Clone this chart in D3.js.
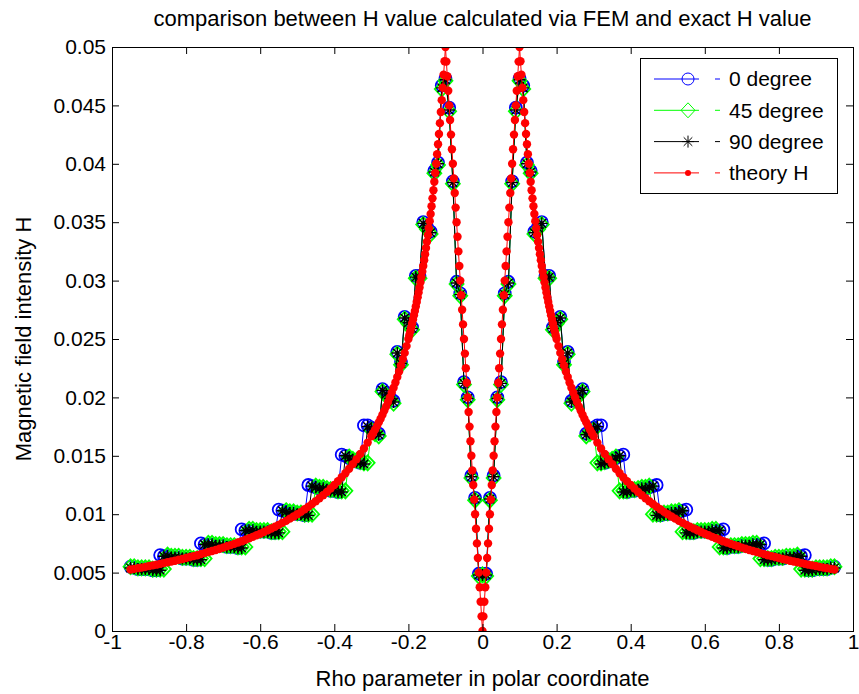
<!DOCTYPE html>
<html>
<head>
<meta charset="utf-8">
<script src="https://cdn.jsdelivr.net/npm/d3@7"></script>
<style>
  body { margin: 0; background: #fff; }
  text { font-family: "Liberation Sans", Arial, Helvetica, sans-serif; fill: #000; }
</style>
</head>
<body>
<div id="chart"></div>
<script>
// Donnees (rho de -0.95 a 0.95, pas 0.01)
const rhoFem = [
  -0.95,-0.94,-0.93,-0.92,-0.91,-0.9,-0.89,-0.88,-0.87,-0.86,
  -0.85,-0.84,-0.83,-0.82,-0.81,-0.8,-0.79,-0.78,-0.77,-0.76,
  -0.75,-0.74,-0.73,-0.72,-0.71,-0.7,-0.69,-0.68,-0.67,-0.66,
  -0.65,-0.64,-0.63,-0.62,-0.61,-0.6,-0.59,-0.58,-0.57,-0.56,
  -0.55,-0.54,-0.53,-0.52,-0.51,-0.5,-0.49,-0.48,-0.47,-0.46,
  -0.45,-0.44,-0.43,-0.42,-0.41,-0.4,-0.39,-0.38,-0.37,-0.36,
  -0.35,-0.34,-0.33,-0.32,-0.31,-0.3,-0.29,-0.28,-0.27,-0.26,
  -0.25,-0.24,-0.23,-0.22,-0.21,-0.2,-0.19,-0.18,-0.17,-0.16,
  -0.15,-0.14,-0.13,-0.12,-0.11,-0.1,-0.09,-0.08,-0.07,-0.06,
  -0.05,-0.04,-0.03,-0.02,-0.01,0,0.01,0.02,0.03,0.04,
  0.05,0.06,0.07,0.08,0.09,0.1,0.11,0.12,0.13,0.14,
  0.15,0.16,0.17,0.18,0.19,0.2,0.21,0.22,0.23,0.24,
  0.25,0.26,0.27,0.28,0.29,0.3,0.31,0.32,0.33,0.34,
  0.35,0.36,0.37,0.38,0.39,0.4,0.41,0.42,0.43,0.44,
  0.45,0.46,0.47,0.48,0.49,0.5,0.51,0.52,0.53,0.54,
  0.55,0.56,0.57,0.58,0.59,0.6,0.61,0.62,0.63,0.64,
  0.65,0.66,0.67,0.68,0.69,0.7,0.71,0.72,0.73,0.74,
  0.75,0.76,0.77,0.78,0.79,0.8,0.81,0.82,0.83,0.84,
  0.85,0.86,0.87,0.88,0.89,0.9,0.91,0.92,0.93,0.94,
  0.95
];

// 0 degree (bleu, cercles)
const hDeg0 = [
  0.0055,0.0054,0.0053,0.0053,0.0053,0.0053,0.0052,0.0052,0.0065,
  0.0064,0.0064,0.0063,0.0063,0.0063,0.0062,0.0062,0.0062,0.0061,0.0061,0.0075,
  0.0074,0.0074,0.0074,0.0073,0.0073,0.0073,0.0072,0.0072,0.0072,0.0071,0.0087,
  0.0086,0.0086,0.0086,0.0085,0.0085,0.0085,0.0085,0.0084,0.0084,0.0104,
  0.0103,0.0102,0.0101,0.0101,0.0100,0.0100,0.0099,0.0125,
  0.0124,0.0123,0.0122,0.0122,0.0121,0.0120,0.0120,0.0119,0.0151,
  0.0150,0.0148,0.0146,0.0145,0.0144,0.0176,
  0.0176,0.0174,0.0171,0.0169,0.0207,0.0204,0.0200,0.0197,0.0239,0.0230,0.0269,0.0265,0.0260,0.0304,0.0304,0.0350,0.0346,0.0342,
  0.0394,0.0401,0.0467,0.0473,0.0448,0.0385,0.0299,0.0289,0.0213,0.0200,0.0133,0.0114,0.0049,
  0.0049,
  0.0049,0.0114,0.0133,0.0200,0.0213,0.0289,0.0299,0.0385,0.0448,0.0473,0.0467,0.0401,0.0394,
  0.0342,0.0346,0.0350,0.0304,0.0304,0.0260,0.0265,0.0269,0.0230,0.0239,0.0197,0.0200,0.0204,0.0207,0.0169,0.0171,0.0174,0.0176,
  0.0176,0.0144,0.0145,0.0146,0.0148,0.0150,
  0.0151,0.0119,0.0120,0.0120,0.0121,0.0122,0.0122,0.0123,0.0124,
  0.0125,0.0099,0.0100,0.0100,0.0101,0.0101,0.0102,0.0103,
  0.0104,0.0084,0.0084,0.0085,0.0085,0.0085,0.0085,0.0086,0.0086,0.0086,
  0.0087,0.0071,0.0072,0.0072,0.0072,0.0073,0.0073,0.0073,0.0074,0.0074,0.0074,
  0.0075,0.0061,0.0061,0.0062,0.0062,0.0062,0.0063,0.0063,0.0063,0.0064,0.0064,
  0.0065,0.0052,0.0052,0.0053,0.0053,0.0053,0.0053,0.0054,0.0055
];

// 45 degree (vert, losanges)
const hDeg45 = [
  0.0055,0.0055,0.0054,0.0054,0.0054,0.0054,0.0053,0.0053,0.0053,
  0.0053,0.0065,0.0064,0.0064,0.0064,0.0063,0.0063,0.0063,0.0062,0.0062,0.0062,
  0.0062,0.0075,0.0075,0.0074,0.0074,0.0074,0.0073,0.0073,0.0073,0.0072,0.0072,
  0.0072,0.0087,0.0087,0.0086,0.0086,0.0086,0.0086,0.0085,0.0085,0.0085,
  0.0085,0.0103,0.0102,0.0102,0.0101,0.0101,0.0100,0.0100,
  0.0100,0.0124,0.0123,0.0123,0.0122,0.0121,0.0121,0.0120,0.0120,
  0.0120,0.0149,0.0147,0.0146,0.0145,0.0144,
  0.0144,0.0172,0.0169,0.0167,0.0205,0.0202,0.0198,0.0195,0.0237,0.0228,0.0267,0.0263,0.0258,0.0302,0.0302,0.0348,0.0344,0.0340,
  0.0392,0.0399,0.0464,0.0471,0.0445,0.0383,0.0297,0.0287,0.0211,0.0198,0.0131,0.0112,0.0047,
  0.0048,
  0.0047,0.0112,0.0131,0.0198,0.0211,0.0287,0.0297,0.0383,0.0445,0.0471,0.0464,0.0399,0.0392,
  0.0340,0.0344,0.0348,0.0302,0.0302,0.0258,0.0263,0.0267,0.0228,0.0237,0.0195,0.0198,0.0202,0.0205,0.0167,0.0169,0.0172,0.0144,
  0.0144,0.0145,0.0146,0.0147,0.0149,0.0120,
  0.0120,0.0120,0.0121,0.0121,0.0122,0.0123,0.0123,0.0124,0.0100,
  0.0100,0.0100,0.0101,0.0101,0.0102,0.0102,0.0103,0.0085,
  0.0085,0.0085,0.0085,0.0086,0.0086,0.0086,0.0086,0.0087,0.0087,0.0072,
  0.0072,0.0072,0.0073,0.0073,0.0073,0.0074,0.0074,0.0074,0.0075,0.0075,0.0062,
  0.0062,0.0062,0.0062,0.0063,0.0063,0.0063,0.0064,0.0064,0.0064,0.0065,0.0053,
  0.0053,0.0053,0.0053,0.0054,0.0054,0.0054,0.0054,0.0055,0.0055
];

// 90 degree (noir, etoiles)
const hDeg90 = [
  0.0054,0.0054,0.0053,0.0053,0.0053,0.0053,0.0052,0.0052,0.0052,
  0.0064,0.0064,0.0063,0.0063,0.0063,0.0062,0.0062,0.0062,0.0061,0.0061,0.0061,
  0.0074,0.0074,0.0074,0.0073,0.0073,0.0073,0.0072,0.0072,0.0072,0.0071,0.0071,
  0.0086,0.0086,0.0086,0.0085,0.0085,0.0085,0.0085,0.0084,0.0084,0.0084,
  0.0103,0.0102,0.0101,0.0101,0.0100,0.0100,0.0099,0.0099,
  0.0124,0.0123,0.0122,0.0122,0.0121,0.0120,0.0120,0.0119,0.0119,
  0.0150,0.0148,0.0146,0.0145,0.0144,0.0143,
  0.0175,0.0173,0.0170,0.0168,0.0206,0.0203,0.0199,0.0196,0.0238,0.0229,0.0268,0.0264,0.0259,0.0303,0.0303,0.0349,0.0345,0.0341,
  0.0393,0.0400,0.0465,0.0472,0.0446,0.0384,0.0298,0.0288,0.0212,0.0199,0.0132,0.0113,0.0048,
  0.0048,
  0.0048,0.0113,0.0132,0.0199,0.0212,0.0288,0.0298,0.0384,0.0446,0.0472,0.0465,0.0400,0.0393,
  0.0341,0.0345,0.0349,0.0303,0.0303,0.0259,0.0264,0.0268,0.0229,0.0238,0.0196,0.0199,0.0203,0.0206,0.0168,0.0170,0.0173,0.0175,
  0.0143,0.0144,0.0145,0.0146,0.0148,0.0150,
  0.0119,0.0119,0.0120,0.0120,0.0121,0.0122,0.0122,0.0123,0.0124,
  0.0099,0.0099,0.0100,0.0100,0.0101,0.0101,0.0102,0.0103,
  0.0084,0.0084,0.0084,0.0085,0.0085,0.0085,0.0085,0.0086,0.0086,0.0086,
  0.0071,0.0071,0.0072,0.0072,0.0072,0.0073,0.0073,0.0073,0.0074,0.0074,0.0074,
  0.0061,0.0061,0.0061,0.0062,0.0062,0.0062,0.0063,0.0063,0.0063,0.0064,0.0064,
  0.0052,0.0052,0.0052,0.0053,0.0053,0.0053,0.0053,0.0054,0.0054
];

// courbe theorique (points rouges)
const rhoTheory = [
  -0.95,-0.94,-0.93,-0.92,-0.91,-0.9,-0.89,-0.88,-0.87,-0.86,
  -0.85,-0.84,-0.83,-0.82,-0.81,-0.8,-0.79,-0.78,-0.77,-0.76,
  -0.75,-0.74,-0.73,-0.72,-0.71,-0.7,-0.69,-0.68,-0.67,-0.66,
  -0.65,-0.64,-0.63,-0.62,-0.61,-0.6,-0.59,-0.58,-0.57,-0.56,
  -0.55,-0.54,-0.53,-0.52,-0.51,-0.5,-0.49,-0.48,-0.47,-0.46,
  -0.45,-0.44,-0.43,-0.42,-0.41,-0.4,-0.39,-0.38,-0.37,-0.36,
  -0.35,-0.34,-0.33,-0.32,-0.31,
  -0.3,-0.295,-0.29,-0.285,-0.28,-0.275,-0.27,-0.265,-0.26,-0.255,
  -0.25,-0.245,-0.24,-0.235,-0.23,-0.225,-0.22,-0.215,-0.21,-0.205,
  -0.2,-0.1975,-0.195,-0.1925,-0.19,-0.1875,-0.185,-0.1825,-0.18,-0.1775,
  -0.175,-0.1725,-0.17,-0.1675,-0.165,-0.1625,-0.16,-0.1575,-0.155,-0.1525,
  -0.15,-0.1475,-0.145,-0.1425,-0.14,-0.1375,-0.135,-0.1325,-0.13,-0.1275,
  -0.125,-0.1225,-0.12,-0.1175,-0.115,-0.1125,-0.11,-0.1075,-0.105,-0.1025,
  -0.1,-0.0975,-0.095,-0.0925,-0.09,-0.0875,-0.085,-0.0825,-0.08,-0.0775,
  -0.075,-0.0725,-0.07,-0.0675,-0.065,-0.0625,-0.06,-0.0575,-0.055,-0.0525,
  -0.05,-0.0475,-0.045,-0.0425,-0.04,-0.0375,-0.035,-0.0325,-0.03,-0.0275,
  -0.025,-0.0225,-0.02,-0.0175,-0.015,-0.0125,-0.01,-0.0075,-0.005,-0.0025,
  0,
  0.0025,0.005,0.0075,0.01,0.0125,0.015,0.0175,0.02,0.0225,0.025,
  0.0275,0.03,0.0325,0.035,0.0375,0.04,0.0425,0.045,0.0475,0.05,
  0.0525,0.055,0.0575,0.06,0.0625,0.065,0.0675,0.07,0.0725,0.075,
  0.0775,0.08,0.0825,0.085,0.0875,0.09,0.0925,0.095,0.0975,0.1,
  0.1025,0.105,0.1075,0.11,0.1125,0.115,0.1175,0.12,0.1225,0.125,
  0.1275,0.13,0.1325,0.135,0.1375,0.14,0.1425,0.145,0.1475,0.15,
  0.1525,0.155,0.1575,0.16,0.1625,0.165,0.1675,0.17,0.1725,0.175,
  0.1775,0.18,0.1825,0.185,0.1875,0.19,0.1925,0.195,0.1975,0.2,
  0.205,0.21,0.215,0.22,0.225,0.23,0.235,0.24,0.245,0.25,
  0.255,0.26,0.265,0.27,0.275,0.28,0.285,0.29,0.295,0.3,
  0.31,0.32,0.33,0.34,0.35,0.36,0.37,0.38,0.39,0.4,
  0.41,0.42,0.43,0.44,0.45,0.46,0.47,0.48,0.49,0.5,
  0.51,0.52,0.53,0.54,0.55,0.56,0.57,0.58,0.59,0.6,
  0.61,0.62,0.63,0.64,0.65,0.66,0.67,0.68,0.69,0.7,
  0.71,0.72,0.73,0.74,0.75,0.76,0.77,0.78,0.79,0.8,
  0.81,0.82,0.83,0.84,0.85,0.86,0.87,0.88,0.89,0.9,
  0.91,0.92,0.93,0.94,0.95
];
const hTheory = [
  0.00526,0.00532,0.00538,0.00543,0.00549,
  0.00556,0.00562,0.00568,0.00575,0.00581,0.00588,0.00595,0.00602,0.0061,0.00617,
  0.00625,0.00633,0.00641,0.00649,0.00658,0.00667,0.00676,0.00685,0.00694,0.00704,
  0.00714,0.00725,0.00735,0.00746,0.00758,0.00769,0.00781,0.00794,0.00806,0.0082,
  0.00833,0.00847,0.00862,0.00877,0.00893,0.00909,0.00926,0.00943,0.00962,0.0098,
  0.01,0.0102,0.01042,0.01064,0.01087,0.01111,0.01136,0.01163,0.0119,0.0122,
  0.0125,0.01282,0.01316,0.01351,0.01389,0.01429,0.01471,0.01515,0.01563,0.01613,
  0.01667,0.01695,0.01724,0.01754,0.01786,0.01818,0.01852,0.01887,0.01923,0.01961,
  0.02,0.02041,0.02083,0.02128,0.02174,0.02222,0.02273,0.02326,0.02381,0.02439,
  0.025,0.02532,0.02564,0.02597,0.02632,0.02667,0.02703,0.0274,0.02778,0.02817,
  0.02857,0.02899,0.02941,0.02985,0.0303,0.03077,0.03125,0.03175,0.03226,0.03279,
  0.03333,0.0339,0.03448,0.03509,0.03571,0.03636,0.03704,0.03774,0.03846,0.03922,
  0.04,0.04082,0.04167,0.04255,0.04348,0.04444,0.04545,0.04651,0.04762,0.04878,
  0.05,0.04875,0.0475,0.04625,0.045,0.04375,0.0425,0.04125,0.04,0.03875,
  0.0375,0.03625,0.035,0.03375,0.0325,0.03125,0.03,0.02875,0.0275,0.02625,
  0.025,0.02375,0.0225,0.02125,0.02,0.01875,0.0175,0.01625,0.015,0.01375,
  0.0125,0.01125,0.01,0.00875,0.0075,0.00625,0.005,0.00375,0.0025,0.00125,
  0,
  0.00125,0.0025,0.00375,0.005,0.00625,0.0075,0.00875,0.01,0.01125,0.0125,
  0.01375,0.015,0.01625,0.0175,0.01875,0.02,0.02125,0.0225,0.02375,0.025,
  0.02625,0.0275,0.02875,0.03,0.03125,0.0325,0.03375,0.035,0.03625,0.0375,
  0.03875,0.04,0.04125,0.0425,0.04375,0.045,0.04625,0.0475,0.04875,0.05,
  0.04878,0.04762,0.04651,0.04545,0.04444,0.04348,0.04255,0.04167,0.04082,0.04,
  0.03922,0.03846,0.03774,0.03704,0.03636,0.03571,0.03509,0.03448,0.0339,0.03333,
  0.03279,0.03226,0.03175,0.03125,0.03077,0.0303,0.02985,0.02941,0.02899,0.02857,
  0.02817,0.02778,0.0274,0.02703,0.02667,0.02632,0.02597,0.02564,0.02532,0.025,
  0.02439,0.02381,0.02326,0.02273,0.02222,0.02174,0.02128,0.02083,0.02041,0.02,
  0.01961,0.01923,0.01887,0.01852,0.01818,0.01786,0.01754,0.01724,0.01695,0.01667,
  0.01613,0.01563,0.01515,0.01471,0.01429,0.01389,0.01351,0.01316,0.01282,0.0125,
  0.0122,0.0119,0.01163,0.01136,0.01111,0.01087,0.01064,0.01042,0.0102,0.01,
  0.0098,0.00962,0.00943,0.00926,0.00909,0.00893,0.00877,0.00862,0.00847,0.00833,
  0.0082,0.00806,0.00794,0.00781,0.00769,0.00758,0.00746,0.00735,0.00725,0.00714,
  0.00704,0.00694,0.00685,0.00676,0.00667,0.00658,0.00649,0.00641,0.00633,0.00625,
  0.00617,0.0061,0.00602,0.00595,0.00588,0.00581,0.00575,0.00568,0.00562,0.00556,
  0.00549,0.00543,0.00538,0.00532,0.00526
];

const xTicks = [-1, -0.8, -0.6, -0.4, -0.2, 0, 0.2, 0.4, 0.6, 0.8, 1];
const yTicks = [0, 0.005, 0.01, 0.015, 0.02, 0.025, 0.03, 0.035, 0.04, 0.045, 0.05];
const legendLabels = ['0 degree', '45 degree', '90 degree', 'theory H'];

// Configuration
const width = 859, height = 694;
const plotLeft = 112, plotRight = 853, plotTop = 47, plotBottom = 631;

const svg = d3.select('#chart').append('svg')
    .attr('width', width)
    .attr('height', height);

svg.append('rect').attr('width', width).attr('height', height).attr('fill', '#fff');

const x = d3.scaleLinear().domain([-1, 1]).range([plotLeft, plotRight]);
const y = d3.scaleLinear().domain([0, 0.05]).range([plotBottom, plotTop]);

svg.append('clipPath').attr('id', 'clip')
    .append('rect')
    .attr('x', plotLeft).attr('y', plotTop)
    .attr('width', plotRight - plotLeft).attr('height', plotBottom - plotTop);

// marqueurs (sw = epaisseur du trait)
function drawMarker(sel, kind, color, sw) {
    if (kind === 'circle') {
        sel.append('circle').attr('r', 6).attr('fill', 'none').attr('stroke', color).attr('stroke-width', sw);
    } else if (kind === 'diamond') {
        sel.append('path').attr('d', 'M0,-7.5L7,0L0,7.5L-7,0Z')
            .attr('fill', 'none').attr('stroke', color).attr('stroke-width', sw);
    } else if (kind === 'star') {
        sel.append('path').attr('d', 'M-6,0H6M0,-6V6M-4.3,-4.3L4.3,4.3M-4.3,4.3L4.3,-4.3')
            .attr('fill', 'none').attr('stroke', color).attr('stroke-width', sw);
    } else {
        sel.append('circle').attr('r', 4.2).attr('fill', color);
    }
}

const plot = svg.append('g').attr('clip-path', 'url(#clip)');

function addSeries(rs, hs, color, kind, sw) {
    const pts = rs.map((r, i) => ({ r: r, h: hs[i] })).filter(d => d.h !== undefined);
    plot.append('path').datum(pts)
        .attr('d', d3.line().x(d => x(d.r)).y(d => y(d.h)))
        .attr('fill', 'none')
        .attr('stroke', color)
        .attr('stroke-width', 1);
    const m = plot.append('g').selectAll('g').data(pts).join('g')
        .attr('transform', d => `translate(${x(d.r)},${y(d.h)})`);
    drawMarker(m, kind, color, sw);
}

addSeries(rhoFem, hDeg0, '#0000ff', 'circle', 1.8);
addSeries(rhoFem, hDeg45, '#00ff00', 'diamond', 1.8);
addSeries(rhoFem, hDeg90, '#000000', 'star', 1.4);
addSeries(rhoTheory, hTheory, '#ff0000', 'dot', 1);

// axes
const fmt = d => String(d);
const xAxis = svg.append('g').attr('transform', `translate(0,${plotBottom})`)
    .call(d3.axisBottom(x).tickValues(xTicks).tickSizeInner(-7).tickSizeOuter(0).tickPadding(3).tickFormat(fmt));
const yAxis = svg.append('g').attr('transform', `translate(${plotLeft},0)`)
    .call(d3.axisLeft(y).tickValues(yTicks).tickSizeInner(-7).tickSizeOuter(0).tickPadding(6).tickFormat(fmt));
const xTop = svg.append('g').attr('transform', `translate(0,${plotTop})`)
    .call(d3.axisTop(x).tickValues(xTicks).tickSizeInner(-7).tickSizeOuter(0).tickFormat(''));
const yRight = svg.append('g').attr('transform', `translate(${plotRight},0)`)
    .call(d3.axisRight(y).tickValues(yTicks).tickSizeInner(-7).tickSizeOuter(0).tickFormat(''));

[xAxis, yAxis, xTop, yRight].forEach(a => {
    a.select('.domain').remove();
    a.selectAll('line').attr('stroke', '#000');
    a.selectAll('text').attr('font-size', 21).attr('font-family', '"Liberation Sans", Arial, sans-serif').attr('fill', '#000');
});

svg.append('rect')
    .attr('x', plotLeft + 0.5).attr('y', plotTop + 0.5)
    .attr('width', plotRight - plotLeft).attr('height', plotBottom - plotTop)
    .attr('fill', 'none').attr('stroke', '#000').attr('stroke-width', 1);

// titres
svg.append('text')
    .attr('x', (plotLeft + plotRight) / 2).attr('y', 26)
    .attr('text-anchor', 'middle').style('font-size', '22px')
    .text('comparison between H value calculated via FEM and exact H value');

svg.append('text')
    .attr('x', (plotLeft + plotRight) / 2).attr('y', 686)
    .attr('text-anchor', 'middle').style('font-size', '22px')
    .text('Rho parameter in polar coordinate');

svg.append('text')
    .attr('transform', `translate(31,${(plotTop + plotBottom) / 2}) rotate(-90)`)
    .attr('text-anchor', 'middle').style('font-size', '22px')
    .text('Magnetic field intensity H');

// legende
const legendColors = ['#0000ff', '#00ff00', '#000000', '#ff0000'];
const legendKinds = ['circle', 'diamond', 'star', 'dot'];
const legend = svg.append('g');
legend.append('rect')
    .attr('x', 640.5).attr('y', 58.5).attr('width', 197).attr('height', 135)
    .attr('fill', '#fff').attr('stroke', '#000').attr('stroke-width', 1);

legendLabels.forEach((lab, i) => {
    const ly = 79 + i * 31.3;
    const row = legend.append('g').attr('transform', `translate(0,${ly})`);
    row.append('line').attr('x1', 654).attr('x2', 699).attr('y1', 0).attr('y2', 0)
        .attr('stroke', legendColors[i]).attr('stroke-width', 1);
    row.append('line').attr('x1', 715).attr('x2', 720).attr('y1', 0).attr('y2', 0)
        .attr('stroke', legendColors[i]).attr('stroke-width', 1);
    const mk = row.append('g').attr('transform', 'translate(688,0)');
    if (legendKinds[i] === 'dot') {
        mk.append('circle').attr('r', 3).attr('fill', legendColors[i]);
    } else {
        drawMarker(mk, legendKinds[i], legendColors[i], 1);
    }
    row.append('text').attr('x', 729).attr('y', 0).attr('dy', '0.35em')
        .style('font-size', '21px').text(lab);
});
</script>
</body>
</html>
